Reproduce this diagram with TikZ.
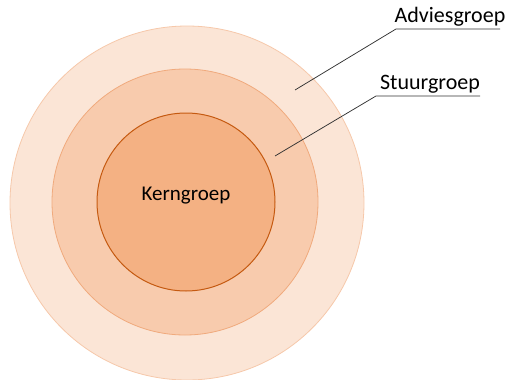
\documentclass[tikz,border=0pt]{standalone}
\usepackage{fontspec}
\setmainfont{Carlito}
\definecolor{ringout}{RGB}{251,229,214}
\definecolor{ringoutline}{RGB}{246,200,170}
\definecolor{ringmid}{RGB}{248,203,173}
\definecolor{ringmidline}{RGB}{240,170,125}
\definecolor{ringcore}{RGB}{244,177,131}
\definecolor{ringcoreline}{RGB}{197,90,17}
\definecolor{leader}{RGB}{50,50,50}
\tikzset{
  ring/.style={circle, inner sep=0pt, line width=0.8pt},
  lbl/.style={font=\fontsize{22}{26}\selectfont, inner sep=0pt},
  leaderline/.style={leader, line width=0.75pt}
}
\begin{document}
\begin{tikzpicture}[x=1pt, y=-1pt]
  \useasboundingbox (0,0) rectangle (507,380);

  % rings
  \node[ring, fill=ringout, draw=ringoutline, minimum size=354pt] (adviesring) at (187,203) {};
  \node[ring, fill=ringmid, draw=ringmidline, minimum size=266pt] (stuurring) at (185,202) {};
  \node[ring, fill=ringcore, draw=ringcoreline, line width=1pt, minimum size=178pt] (kernring) at (186,202) {};
  \node[lbl, font=\fontsize{21}{25}\selectfont] (kern) at (186,196) {Kerngroep};

  % labels
  \node[lbl, anchor=base] (advies) at (450,23) {Adviesgroep};
  \coordinate (adviestip) at (295,90);
  \coordinate (adviesL) at (396,29);
  \coordinate (adviesR) at (500,29);
  \draw[leaderline] (adviestip) -- (adviesL) -- (adviesR);

  \node[lbl, anchor=base] (stuur) at (430,89) {Stuurgroep};
  \coordinate (stuurtip) at (275,156);
  \coordinate (stuurL) at (376,96);
  \coordinate (stuurR) at (480,96);
  \draw[leaderline] (stuurtip) -- (stuurL) -- (stuurR);
\end{tikzpicture}
\end{document}
